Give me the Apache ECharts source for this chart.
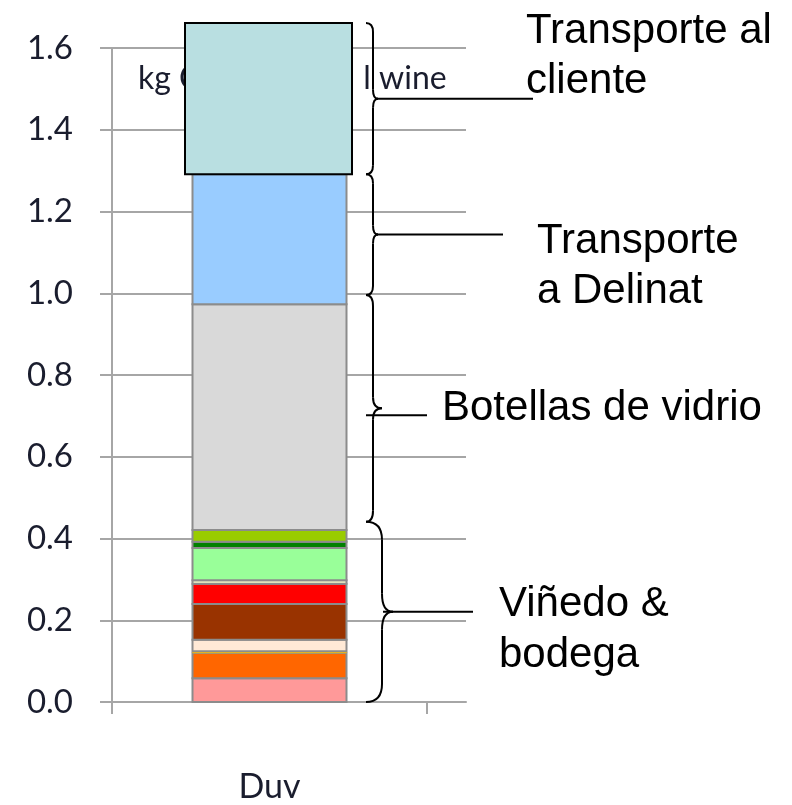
<!DOCTYPE html>
<html>
<head>
<meta charset="utf-8">
<script src="https://cdn.jsdelivr.net/npm/echarts@6/dist/echarts.min.js"></script>
<style>
  html, body { margin: 0; padding: 0; background: #fff; }
  #chart { width: 792px; height: 805px; }
</style>
</head>
<body>
<div id="chart"></div>
<script>
// categoría y ticks
var categories = ['Duv'];
var yTicks = [0, 0.2, 0.4, 0.6, 0.8, 1.0, 1.2, 1.4, 1.6];
var titleText = 'kg CO2e / 0.75 l wine';

// segmentos apilados (de abajo hacia arriba), kg CO2e
var segValues = [0.058, 0.062, 0.004, 0.028, 0.088, 0.049, 0.009, 0.079, 0.015, 0.029, 0.552, 0.318];
var clienteValue = 0.370; // transporte al cliente (caja superior)

// llaves de la derecha
var groupLabels = ['Transporte al\ncliente', 'Transporte\na Delinat', 'Botellas de vidrio', 'Viñedo &\nbodega'];
var groupRanges = [[1.291, 1.661], [0.996, 1.291], [0.441, 0.996], [0, 0.441]];

var segColors = ['#ff9999', '#ff6600', '#ffc000', '#ffe9d6', '#993300', '#ff0000', '#ffffcc', '#99ff99', '#008000', '#99cc00', '#d9d9d9', '#99ccff'];

var chart = echarts.init(document.getElementById('chart'));

// filas [x, inicio, fin, índice] para la serie custom
var segRows = [];
var acc = 0;
for (var i = 0; i < segValues.length; i++) {
    segRows.push([0.5, acc, acc + segValues[i], i]);
    acc += segValues[i];
}
var base = acc;

var axisColor = '#a6a6a6';
var option = {
    animation: false,
    title: {
        text: titleText,
        left: 133,
        top: 58,
        z: 6,
        textStyle: { fontFamily: 'Lato', fontSize: 32, fontWeight: 'normal', color: '#1a1d2e', lineHeight: 32 }
    },
    grid: { left: 112, top: 48, width: 354, height: 654, containLabel: false, outerBoundsMode: 'none' },
    xAxis: {
        type: 'value',
        min: 0,
        max: 354 / 315,
        axisLine: { show: true, lineStyle: { color: axisColor, width: 2 } },
        axisTick: { show: true, length: 12, inside: false, customValues: [0, 1], lineStyle: { color: axisColor, width: 2 } },
        splitLine: { show: false },
        axisLabel: {
            customValues: [0.5],
            formatter: function () { return categories[0]; },
            margin: 68,
            fontFamily: 'Lato',
            fontSize: 34,
            lineHeight: 34,
            color: '#1a1d2e'
        }
    },
    yAxis: {
        type: 'value',
        min: yTicks[0],
        max: yTicks[yTicks.length - 1],
        interval: 0.2,
        axisLine: { show: true, lineStyle: { color: axisColor, width: 2 } },
        axisTick: { show: true, length: 12, inside: false, lineStyle: { color: axisColor, width: 2 } },
        splitLine: { show: true, lineStyle: { color: axisColor, width: 2 } },
        axisLabel: {
            formatter: function (v) { return v.toFixed(1); },
            margin: 39,
            fontFamily: 'Lato',
            fontSize: 33,
            color: '#1a1d2e'
        }
    },
    series: [{
        name: 'Viñedo, bodega, botellas, transporte',
        type: 'custom',
        z: 3,
        data: segRows,
        encode: { x: 0, y: [1, 2] },
        renderItem: function (params, api) {
            var p0 = api.coord([api.value(0), api.value(1)]);
            var p1 = api.coord([api.value(0), api.value(2)]);
            var idx = api.value(3);
            var w = 154;
            var thin = idx == 2;
            return {
                type: 'rect',
                shape: { x: p0[0] - w / 2, y: p1[1], width: w, height: p0[1] - p1[1] },
                style: {
                    fill: segColors[idx],
                    stroke: thin ? segColors[idx] : '#8c8c8c',
                    lineWidth: thin ? 0.5 : 2
                }
            };
        }
    }, {
        name: 'Transporte al cliente',
        type: 'custom',
        z: 10,
        data: [[0.5, base, base + clienteValue]],
        encode: { x: 0, y: [1, 2] },
        renderItem: function (params, api) {
            var p0 = api.coord([api.value(0), api.value(1)]);
            var p1 = api.coord([api.value(0), api.value(2)]);
            var w = 167;
            return {
                type: 'rect',
                shape: { x: p0[0] - w / 2 - 1, y: p1[1], width: w, height: p0[1] - p1[1] },
                style: { fill: '#b9dfe1', stroke: '#000', lineWidth: 2 }
            };
        }
    }]
};
chart.setOption(option);

// llaves y textos
function braceParts(xv, yTop, yBot, wl, wr, r) {
    var yMid = (yTop + yBot) / 2;
    var st = { stroke: '#000', lineWidth: 2, fill: null };
    return [
        { type: 'bezierCurve', shape: { x1: xv - wl, y1: yTop, cpx1: xv, cpy1: yTop, x2: xv, y2: yTop + r }, style: st, z: 20 },
        { type: 'line', shape: { x1: xv, y1: yTop + r, x2: xv, y2: yMid - r }, style: st, z: 20 },
        { type: 'bezierCurve', shape: { x1: xv, y1: yMid - r, cpx1: xv, cpy1: yMid, x2: xv + wr, y2: yMid }, style: st, z: 20 },
        { type: 'bezierCurve', shape: { x1: xv + wr, y1: yMid, cpx1: xv, cpy1: yMid, x2: xv, y2: yMid + r }, style: st, z: 20 },
        { type: 'line', shape: { x1: xv, y1: yMid + r, x2: xv, y2: yBot - r }, style: st, z: 20 },
        { type: 'bezierCurve', shape: { x1: xv, y1: yBot - r, cpx1: xv, cpy1: yBot, x2: xv - wl, y2: yBot }, style: st, z: 20 }
    ];
}

var braceStyle = [
    { xv: 373, wl: 7, wr: 5, r: 9, lx0: 377, lx1: 533, dy: 0, tx: 526, ty: 6, lh: 50 },
    { xv: 373, wl: 7, wr: 5, r: 9, lx0: 377, lx1: 503, dy: 0, tx: 537, ty: 216, lh: 50 },
    { xv: 373, wl: 7, wr: 9, r: 11, lx0: 366, lx1: 427, dy: 7, tx: 442, ty: 383, lh: 50 },
    { xv: 382, wl: 16, wr: 11, r: 18, lx0: 383, lx1: 473, dy: 0, tx: 499, ty: 579, lh: 51 }
];

var elements = [];
for (var i = 0; i < groupRanges.length; i++) {
    var s = braceStyle[i];
    var yTop = chart.convertToPixel({ yAxisIndex: 0 }, groupRanges[i][1]);
    var yBot = chart.convertToPixel({ yAxisIndex: 0 }, groupRanges[i][0]);
    var yMid = (yTop + yBot) / 2;
    elements = elements.concat(braceParts(s.xv, yTop, yBot, s.wl, s.wr, s.r));
    elements.push({
        type: 'line',
        shape: { x1: s.lx0, y1: yMid + s.dy, x2: s.lx1, y2: yMid + s.dy },
        style: { stroke: '#000', lineWidth: 2 },
        z: 20
    });
    elements.push({
        type: 'text',
        x: s.tx,
        y: s.ty,
        style: {
            text: groupLabels[i],
            font: '42px "Liberation Sans", Arial, sans-serif',
            fill: '#000',
            lineHeight: s.lh,
            verticalAlign: 'top'
        },
        z: 20
    });
}
chart.setOption({ graphic: { elements: elements } });
</script>
</body>
</html>
